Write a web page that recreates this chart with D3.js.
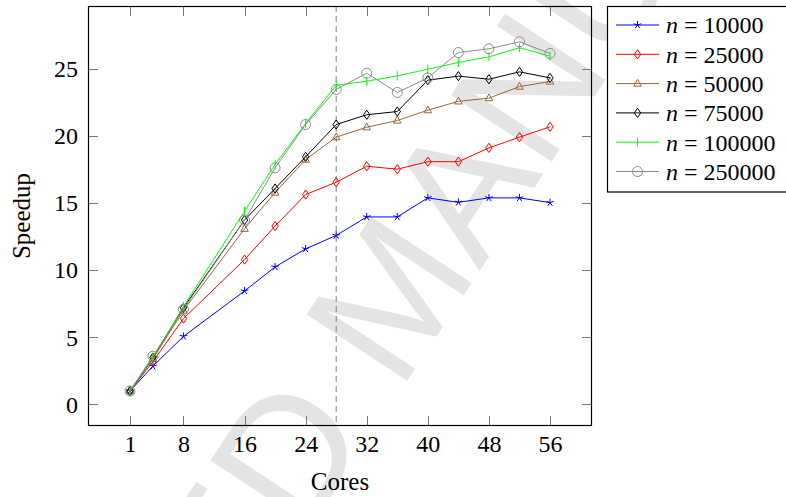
<!DOCTYPE html>
<html><head><meta charset="utf-8">
<script src="https://cdn.jsdelivr.net/npm/d3@7"></script>
<style>body{margin:0;background:#fff}svg{display:block}</style>
</head><body><svg id="c" width="786" height="497"></svg>
<script>
const cores = [1, 4, 8, 16, 20, 24, 28, 32, 36, 40, 44, 48, 52, 56];
const xTicks = [1, 8, 16, 24, 32, 40, 48, 56];
const yTicks = [0, 5, 10, 15, 20, 25];
const seriesNames = ["10000", "25000", "50000", "75000", "100000", "250000"];
const s10000  = [1, 2.85, 5.07, 8.46, 10.25, 11.6, 12.6, 13.98, 13.98, 15.4, 15.07, 15.4, 15.4, 15.05];
const s25000  = [1, 3.2, 6.4, 10.8, 13.3, 15.65, 16.57, 17.76, 17.54, 18.1, 18.1, 19.13, 19.93, 20.7];
const s50000  = [1, 3.4, 7.0, 13.1, 15.8, 18.26, 19.93, 20.67, 21.17, 21.94, 22.6, 22.84, 23.7, 24.08];
const s75000  = [1, 3.5, 7.2, 13.75, 16.1, 18.46, 20.87, 21.6, 21.84, 24.18, 24.48, 24.25, 24.8, 24.35];
const s100000 = [1, 3.5, 7.3, 14.4, 17.9, 20.95, 23.8, 24.1, 24.5, 25.0, 25.5, 25.92, 26.6, 25.97];
const s250000 = [1, 3.6, 7.1, 13.75, 17.64, 20.87, 23.48, 24.7, 23.26, 24.35, 26.24, 26.52, 27.04, 26.17];
const markerLine = 28;

const allSeries = [s10000, s25000, s50000, s75000, s100000, s250000];
const colors = ["#0000ff", "#ff0000", "#99663a", "#000000", "#00ff00", "#8c8c8c"];
const markers = ["star", "diamond", "triangle", "diamond", "bar", "circle"];
const SERIF = "'Liberation Serif','DejaVu Serif',serif";

const svg = d3.select("#c");
const L = 88, R = 592, T = 6, B = 426;
const x = d3.scaleLinear().domain([-4.5, 61.5]).range([L, R]);
const y = d3.scaleLinear().domain([-1.61, 29.71]).range([B, T]);

// watermark
const WF = 175;
svg.append("text")
  .attr("transform", "translate(392,290) rotate(-56.6)")
  .attr("x", -4).attr("y", 0.358 * WF)
  .attr("text-anchor", "middle")
  .style("font-family", "'Liberation Sans',Arial,sans-serif")
  .style("font-size", WF + "px")
  .attr("fill", "#e4e4e4")
  .text("ACCEPTED MANUSCRIPT");

// dashed vertical line
svg.append("line").attr("x1", x(markerLine)).attr("x2", x(markerLine))
  .attr("y1", T).attr("y2", B)
  .attr("stroke", "#808080").attr("stroke-width", 1).attr("stroke-dasharray", "6,4");

// ticks (all four sides, inward)
const tk = svg.append("g").attr("stroke", "#777").attr("stroke-width", 1);
xTicks.forEach(v => {
  const px = Math.round(x(v)) + 0.5;
  tk.append("line").attr("x1", px).attr("x2", px).attr("y1", B).attr("y2", B - 10);
  tk.append("line").attr("x1", px).attr("x2", px).attr("y1", T).attr("y2", T + 10);
});
yTicks.forEach(v => {
  const py = Math.round(y(v)) + 0.5;
  tk.append("line").attr("y1", py).attr("y2", py).attr("x1", L).attr("x2", L + 10);
  tk.append("line").attr("y1", py).attr("y2", py).attr("x1", R).attr("x2", R - 10);
});

// axes via d3 (labels only)
const xAxis = d3.axisBottom(x).tickValues(xTicks).tickSize(0).tickPadding(9);
const gx = svg.append("g").attr("transform", `translate(0,${B})`).call(xAxis);
gx.select(".domain").remove();
gx.attr("font-family", null).attr("font-size", null);
gx.selectAll("text").style("font-size", "24px").style("font-family", SERIF).attr("fill", "#000");
const yAxis = d3.axisLeft(y).tickValues(yTicks).tickSize(0).tickPadding(10);
const gy = svg.append("g").attr("transform", `translate(${L},0)`).call(yAxis);
gy.select(".domain").remove();
gy.attr("font-family", null).attr("font-size", null);
gy.selectAll("text").style("font-size", "24px").style("font-family", SERIF).attr("fill", "#000");

// frame
svg.append("rect").attr("x", L + 0.5).attr("y", T + 0.5).attr("width", R - L - 1).attr("height", B - T - 1)
  .attr("fill", "none").attr("stroke", "#000").attr("stroke-width", 1.2);

// axis titles
svg.append("text").attr("x", (L + R) / 2).attr("y", 490).attr("text-anchor", "middle")
  .style("font-family", SERIF).style("font-size", "25px").text("Cores");
svg.append("text").attr("transform", `translate(30,${(T + B) / 2}) rotate(-90)`).attr("text-anchor", "middle")
  .style("font-family", SERIF).style("font-size", "25px").text("Speedup");

function drawMarker(g, type, cx, cy, color) {
  if (type === "circle") {
    g.append("circle").attr("cx", cx).attr("cy", cy).attr("r", 5).attr("fill", "none").attr("stroke", color).attr("stroke-width", 1);
  } else if (type === "diamond") {
    g.append("path").attr("d", `M${cx},${cy - 4.6}L${cx + 3.2},${cy}L${cx},${cy + 4.6}L${cx - 3.2},${cy}Z`)
      .attr("fill", "none").attr("stroke", color).attr("stroke-width", 1);
  } else if (type === "triangle") {
    g.append("path").attr("d", `M${cx},${cy - 4.2}L${cx + 3.8},${cy + 2.6}L${cx - 3.8},${cy + 2.6}Z`)
      .attr("fill", "none").attr("stroke", color).attr("stroke-width", 1);
  } else if (type === "bar") {
    g.append("line").attr("x1", cx).attr("x2", cx).attr("y1", cy - 4.5).attr("y2", cy + 4.5).attr("stroke", color).attr("stroke-width", 1);
  } else if (type === "star") {
    for (let k = 0; k < 5; k++) {
      const a = -Math.PI / 2 + k * 2 * Math.PI / 5;
      g.append("line").attr("x1", cx).attr("y1", cy).attr("x2", cx + 4 * Math.cos(a)).attr("y2", cy + 4 * Math.sin(a))
        .attr("stroke", color).attr("stroke-width", 1);
    }
  }
}

const line = d3.line().x((d, i) => x(cores[i])).y(d => y(d));
allSeries.forEach((s, si) => {
  const g = svg.append("g");
  g.append("path").datum(s).attr("d", line).attr("fill", "none").attr("stroke", colors[si]).attr("stroke-width", 1);
  s.forEach((v, i) => drawMarker(g, markers[si], x(cores[i]), y(v), colors[si]));
});

// legend
const lg = svg.append("g");
lg.append("rect").attr("x", 607.5).attr("y", 6.5).attr("width", 200).attr("height", 185.5)
  .attr("fill", "#fff").attr("stroke", "#000").attr("stroke-width", 1.2);
seriesNames.forEach((nm, i) => {
  const ly = 25 + i * 29.3;
  lg.append("line").attr("x1", 616).attr("x2", 659).attr("y1", ly).attr("y2", ly).attr("stroke", colors[i]).attr("stroke-width", 1);
  drawMarker(lg, markers[i], 637.5, ly, colors[i]);
  const t = lg.append("text").attr("x", 666).attr("y", ly + 8.3)
    .style("font-family", SERIF).style("font-size", "24px").attr("fill", "#000");
  t.append("tspan").style("font-style", "italic").text("n");
  t.append("tspan").text(" = " + nm);
});
</script></body></html>
